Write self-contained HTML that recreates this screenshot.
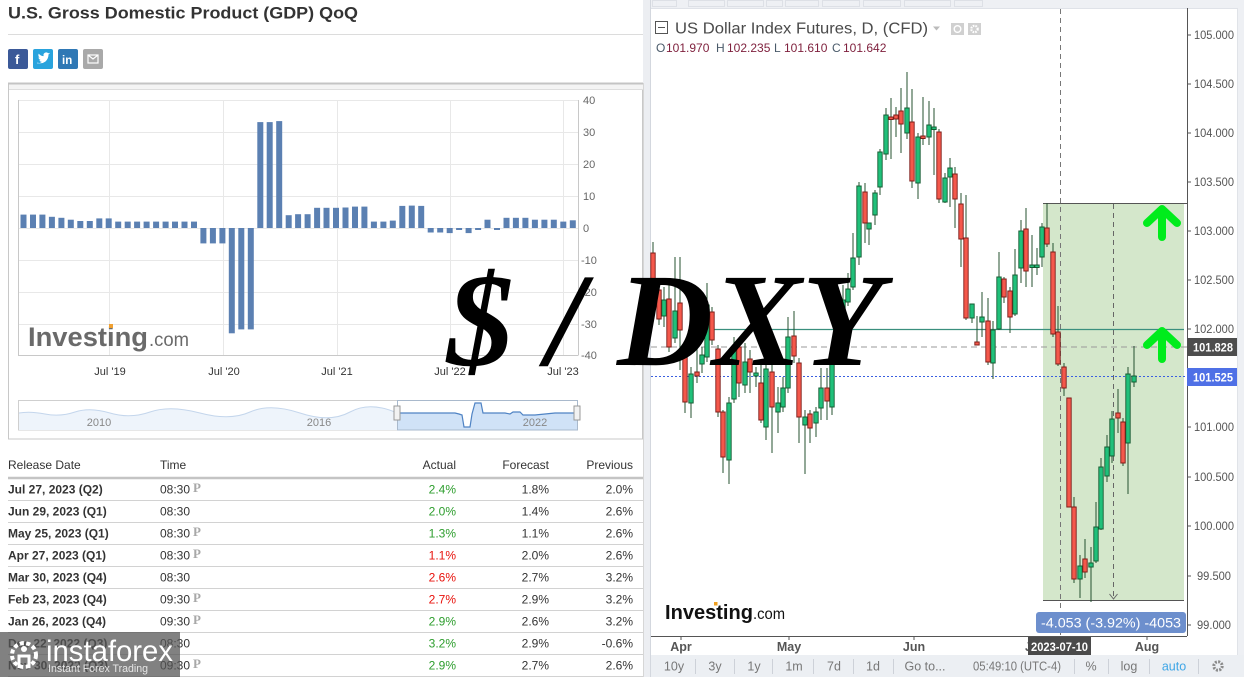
<!DOCTYPE html>
<html>
<head>
<meta charset="utf-8">
<style>
html,body{margin:0;padding:0;background:#fff;}
body{width:1244px;height:677px;overflow:hidden;}
svg{display:block;font-family:"Liberation Sans",Arial,sans-serif;}
</style>
</head>
<body>
<svg width="1244" height="677" viewBox="0 0 1244 677" xmlns="http://www.w3.org/2000/svg">
<!-- ============ LEFT PANEL ============ -->
<rect x="0" y="0" width="644" height="677" fill="#fff"/>
<text x="8" y="18.5" font-size="17" font-weight="bold" fill="#333" textLength="350" lengthAdjust="spacingAndGlyphs">U.S. Gross Domestic Product (GDP) QoQ</text>
<line x1="8" y1="34.5" x2="643" y2="34.5" stroke="#dcdcdc" stroke-width="1"/>
<!-- social icons -->
<rect x="8" y="49" width="20" height="20" rx="2" fill="#3b5998"/>
<text x="15" y="64" font-size="13" font-weight="bold" fill="#fff">f</text>
<rect x="33" y="49" width="20" height="20" rx="2" fill="#29a3dd"/>
<path d="M37.5 62.5 q4 2 8 -1 q3 -3 3 -7 l1.6 -1.6 -1.9 .4 q-1.5 -1.6 -3.5 -.4 q-1.8 1.2 -1 3.2 q-3 0 -5 -2.5 q-1 2.5 1 4 l-1.3 -.2 q.3 2 2.3 2.6 l-1.3 .2 q.7 1.6 2.5 1.7 q-1.8 1.4 -4.7 1.6z" fill="#fff"/>
<rect x="58" y="49" width="20" height="20" rx="2" fill="#2f78b5"/>
<text x="62" y="64" font-size="11.5" font-weight="bold" fill="#fff">in</text>
<rect x="83" y="49" width="20" height="20" rx="2" fill="#a9a9a9"/>
<rect x="88" y="55" width="10" height="8" fill="none" stroke="#fff" stroke-width="1.2"/>
<path d="M88 55 l5 4 l5 -4" fill="none" stroke="#fff" stroke-width="1.2"/>

<!-- chart box -->
<rect x="8.5" y="83.5" width="634" height="355.5" fill="#fff" stroke="#c8c8c8" stroke-width="1"/>
<rect x="9" y="84" width="634" height="5" fill="#f4f4f4"/>
<line x1="8" y1="83.5" x2="643" y2="83.5" stroke="#c4c4c4" stroke-width="2"/>
<line x1="9" y1="89.5" x2="643" y2="89.5" stroke="#dedede" stroke-width="1"/>
<!-- gridlines -->
<g stroke="#e8e8e8" stroke-width="1">
<line x1="18" y1="100.5" x2="578" y2="100.5"/>
<line x1="18" y1="132.5" x2="578" y2="132.5"/>
<line x1="18" y1="164.5" x2="578" y2="164.5"/>
<line x1="18" y1="196.5" x2="578" y2="196.5"/>
<line x1="18" y1="228.5" x2="578" y2="228.5"/>
<line x1="18" y1="260.5" x2="578" y2="260.5"/>
<line x1="18" y1="292.5" x2="578" y2="292.5"/>
<line x1="18" y1="324.5" x2="578" y2="324.5"/>
<line x1="109.5" y1="100" x2="109.5" y2="355"/>
<line x1="223.5" y1="100" x2="223.5" y2="355"/>
<line x1="337.5" y1="100" x2="337.5" y2="355"/>
<line x1="450.5" y1="100" x2="450.5" y2="355"/>
<line x1="563.5" y1="100" x2="563.5" y2="355"/>
</g>
<g stroke="#c8c8c8" stroke-width="1">
<line x1="18.5" y1="100" x2="18.5" y2="355.5"/>
<line x1="18" y1="355.5" x2="578" y2="355.5"/>
<line x1="578.5" y1="100" x2="578.5" y2="355.5"/>
</g>
<!-- bars -->
<g fill="#5b80b2">
<rect x="20.5" y="214.6" width="6" height="13.4"/>
<rect x="30" y="214.6" width="6" height="13.4"/>
<rect x="39.4" y="214.6" width="6" height="13.4"/>
<rect x="48.9" y="216.8" width="6" height="11.2"/>
<rect x="58.4" y="217.8" width="6" height="10.2"/>
<rect x="67.8" y="219.7" width="6" height="8.3"/>
<rect x="77.3" y="221" width="6" height="7"/>
<rect x="86.8" y="221" width="6" height="7"/>
<rect x="96.3" y="218.4" width="6" height="9.6"/>
<rect x="105.7" y="218.4" width="6" height="9.6"/>
<rect x="115.2" y="221.6" width="6" height="6.4"/>
<rect x="124.7" y="221.6" width="6" height="6.4"/>
<rect x="134.1" y="221.6" width="6" height="6.4"/>
<rect x="143.6" y="221.6" width="6" height="6.4"/>
<rect x="153.1" y="221.6" width="6" height="6.4"/>
<rect x="162.6" y="221.6" width="6" height="6.4"/>
<rect x="172" y="221.6" width="6" height="6.4"/>
<rect x="181.5" y="221.6" width="6" height="6.4"/>
<rect x="191" y="221.6" width="6" height="6.4"/>
<rect x="200.4" y="228" width="6" height="15.4"/>
<rect x="209.9" y="228" width="6" height="15.4"/>
<rect x="219.4" y="228" width="6" height="15.4"/>
<rect x="228.8" y="228" width="6" height="105.3"/>
<rect x="238.3" y="228" width="6" height="101.4"/>
<rect x="247.8" y="228" width="6" height="101.4"/>
<rect x="257.3" y="122.1" width="6" height="105.9"/>
<rect x="266.7" y="122.1" width="6" height="105.9"/>
<rect x="276.2" y="121.1" width="6" height="106.9"/>
<rect x="285.7" y="215.2" width="6" height="12.8"/>
<rect x="295.1" y="214.2" width="6" height="13.8"/>
<rect x="304.6" y="214.2" width="6" height="13.8"/>
<rect x="314.1" y="207.8" width="6" height="20.2"/>
<rect x="323.5" y="207.8" width="6" height="20.2"/>
<rect x="333" y="207.8" width="6" height="20.2"/>
<rect x="342.5" y="207.5" width="6" height="20.5"/>
<rect x="352" y="206.6" width="6" height="21.4"/>
<rect x="361.4" y="206.6" width="6" height="21.4"/>
<rect x="370.9" y="221.6" width="6" height="6.4"/>
<rect x="380.4" y="221.6" width="6" height="6.4"/>
<rect x="389.8" y="220.6" width="6" height="7.4"/>
<rect x="399.3" y="205.9" width="6" height="22.1"/>
<rect x="408.8" y="205.6" width="6" height="22.4"/>
<rect x="418.2" y="205.9" width="6" height="22.1"/>
<rect x="427.7" y="228" width="6" height="4.5"/>
<rect x="437.2" y="228" width="6" height="4.5"/>
<rect x="446.7" y="228" width="6" height="5.1"/>
<rect x="456.1" y="228" width="6" height="2"/>
<rect x="465.6" y="228" width="6" height="5.1"/>
<rect x="475.1" y="228" width="6" height="2"/>
<rect x="484.5" y="219.7" width="6" height="8.3"/>
<rect x="494" y="228" width="6" height="2"/>
<rect x="503.5" y="217.8" width="6" height="10.2"/>
<rect x="512.9" y="217.8" width="6" height="10.2"/>
<rect x="522.4" y="217.8" width="6" height="10.2"/>
<rect x="531.9" y="219.7" width="6" height="8.3"/>
<rect x="541.4" y="219.7" width="6" height="8.3"/>
<rect x="550.8" y="219.7" width="6" height="8.3"/>
<rect x="560.3" y="221.6" width="6" height="6.4"/>
<rect x="569.8" y="220.3" width="6" height="7.7"/>
</g>
<!-- y labels -->
<g font-size="11" fill="#666">
<text x="583" y="104">40</text>
<text x="583" y="136">30</text>
<text x="583" y="168">20</text>
<text x="583" y="200">10</text>
<text x="583" y="232">0</text>
<text x="581" y="264">-10</text>
<text x="581" y="296">-20</text>
<text x="581" y="328">-30</text>
<text x="581" y="359">-40</text>
</g>
<g font-size="11" fill="#333" text-anchor="middle">
<text x="110" y="375">Jul '19</text>
<text x="224" y="375">Jul '20</text>
<text x="337" y="375">Jul '21</text>
<text x="450" y="375">Jul '22</text>
<text x="563" y="375">Jul '23</text>
</g>
<!-- investing logo left -->
<text x="28" y="346" font-size="27" font-weight="bold" fill="#6a6a6a" textLength="120" lengthAdjust="spacingAndGlyphs">Investing</text>
<text x="149" y="346" font-size="19" fill="#6a6a6a" textLength="40" lengthAdjust="spacingAndGlyphs">.com</text>
<rect x="109" y="324" width="4" height="4" fill="#f0a030"/>
<!-- navigator -->
<rect x="18.5" y="400.5" width="559" height="29.5" fill="#fff" stroke="#cfcfcf"/>
<path d="M19 413 Q30 411 45 414 T75 412 T110 413 T150 412 T200 413 T250 412 T300 413 T350 412 T397 413 V430 H19Z" fill="#eef4fb"/>
<path d="M19 413 Q30 411 45 414 T75 412 T110 413 T150 412 T200 413 T250 412 T300 413 T350 412 T397 413" fill="none" stroke="#c4d6ec" stroke-width="1"/>
<path d="M397 413 L455 413 L459 414 L462 415 L464 427 L470 427 L472 414 L475 403 L481 403 L483 413 L505 413 L510 414 L513 412 L520 412 L523 415 L535 415 L545 414 L555 413 L577 413 V430 H397Z" fill="#d0e2f7" stroke="none"/>
<path d="M397 413 L455 413 L459 414 L462 415 L464 427 L470 427 L472 414 L475 403 L481 403 L483 413 L505 413 L510 414 L513 412 L520 412 L523 415 L535 415 L545 414 L555 413 L577 413" fill="none" stroke="#4f83c4" stroke-width="1.2"/>
<rect x="397.5" y="400.5" width="180" height="29.5" fill="none" stroke="#a9b9cc"/>
<rect x="394" y="406" width="6" height="14" fill="#f2f2f2" stroke="#999"/>
<rect x="574" y="406" width="6" height="14" fill="#f2f2f2" stroke="#999"/>
<g font-size="11" fill="#888" text-anchor="middle">
<text x="99" y="426">2010</text>
<text x="319" y="426">2016</text>
<text x="535" y="426">2022</text>
</g>
<!-- table -->
<g font-size="12" fill="#333">
<text x="8" y="469">Release Date</text>
<text x="160" y="469">Time</text>
<text x="456" y="469" text-anchor="end">Actual</text>
<text x="549" y="469" text-anchor="end">Forecast</text>
<text x="633" y="469" text-anchor="end">Previous</text>
</g>
<line x1="8" y1="478" x2="643" y2="478" stroke="#c4c4c4" stroke-width="2.5"/>
<g stroke="#d2d2d2" stroke-width="1">
<line x1="8" y1="500.5" x2="643" y2="500.5"/>
<line x1="8" y1="522.5" x2="643" y2="522.5"/>
<line x1="8" y1="544.5" x2="643" y2="544.5"/>
<line x1="8" y1="566.5" x2="643" y2="566.5"/>
<line x1="8" y1="588.5" x2="643" y2="588.5"/>
<line x1="8" y1="610.5" x2="643" y2="610.5"/>
<line x1="8" y1="632.5" x2="643" y2="632.5"/>
<line x1="8" y1="654.5" x2="643" y2="654.5"/>
<line x1="8" y1="676.5" x2="643" y2="676.5"/>
</g>
<g font-size="12" font-weight="bold" fill="#333">
<text x="8" y="493.5">Jul 27, 2023 (Q2)</text>
<text x="8" y="515.5">Jun 29, 2023 (Q1)</text>
<text x="8" y="537.5">May 25, 2023 (Q1)</text>
<text x="8" y="559.5">Apr 27, 2023 (Q1)</text>
<text x="8" y="581.5">Mar 30, 2023 (Q4)</text>
<text x="8" y="603.5">Feb 23, 2023 (Q4)</text>
<text x="8" y="625.5">Jan 26, 2023 (Q4)</text>
<text x="8" y="647.5">Dec 22, 2022 (Q3)</text>
<text x="8" y="669.5">Nov 30, 2022 (Q3)</text>
</g>
<g font-size="12" fill="#333">
<text x="160" y="493.5">08:30</text>
<text x="160" y="515.5">08:30</text>
<text x="160" y="537.5">08:30</text>
<text x="160" y="559.5">08:30</text>
<text x="160" y="581.5">08:30</text>
<text x="160" y="603.5">09:30</text>
<text x="160" y="625.5">09:30</text>
<text x="160" y="647.5">08:30</text>
<text x="160" y="669.5">09:30</text>
</g>
<g font-family="Liberation Serif, serif" font-size="13" font-weight="bold" fill="#a8a8a8">
<text x="193" y="492">P</text>
<text x="193" y="536">P</text>
<text x="193" y="558">P</text>
<text x="193" y="602">P</text>
<text x="193" y="624">P</text>
<text x="193" y="668">P</text>
</g>
<g font-size="12" text-anchor="end">
<text x="456" y="493.5" fill="#2e9e2e">2.4%</text>
<text x="456" y="515.5" fill="#2e9e2e">2.0%</text>
<text x="456" y="537.5" fill="#2e9e2e">1.3%</text>
<text x="456" y="559.5" fill="#e8120c">1.1%</text>
<text x="456" y="581.5" fill="#e8120c">2.6%</text>
<text x="456" y="603.5" fill="#e8120c">2.7%</text>
<text x="456" y="625.5" fill="#2e9e2e">2.9%</text>
<text x="456" y="647.5" fill="#2e9e2e">3.2%</text>
<text x="456" y="669.5" fill="#2e9e2e">2.9%</text>
</g>
<g font-size="12" text-anchor="end" fill="#333">
<text x="549" y="493.5">1.8%</text>
<text x="549" y="515.5">1.4%</text>
<text x="549" y="537.5">1.1%</text>
<text x="549" y="559.5">2.0%</text>
<text x="549" y="581.5">2.7%</text>
<text x="549" y="603.5">2.9%</text>
<text x="549" y="625.5">2.6%</text>
<text x="549" y="647.5">2.9%</text>
<text x="549" y="669.5">2.7%</text>
<text x="633" y="493.5">2.0%</text>
<text x="633" y="515.5">2.6%</text>
<text x="633" y="537.5">2.6%</text>
<text x="633" y="559.5">2.6%</text>
<text x="633" y="581.5">3.2%</text>
<text x="633" y="603.5">3.2%</text>
<text x="633" y="625.5">3.2%</text>
<text x="633" y="647.5">-0.6%</text>
<text x="633" y="669.5">2.6%</text>
</g>
<!-- instaforex watermark -->
<rect x="0" y="632" width="180" height="45" fill="rgba(85,85,85,0.74)"/>
<circle cx="24" cy="655" r="12" fill="none" stroke="#fff" stroke-width="4" stroke-dasharray="4 2.5"/>
<circle cx="24" cy="649" r="3" fill="#fff"/>
<path d="M19 668 V656 H29 V668" fill="none" stroke="#fff" stroke-width="3"/>
<text x="46" y="661" font-size="30" fill="#fff" textLength="127" lengthAdjust="spacingAndGlyphs">instaforex</text>
<text x="48" y="672" font-size="11" fill="#e6e6e6" textLength="100" lengthAdjust="spacingAndGlyphs">Instant Forex Trading</text>

<!-- ============ RIGHT PANEL ============ -->
<rect x="643" y="0" width="8" height="677" fill="#eceef2"/>
<line x1="643.5" y1="83" x2="643.5" y2="677" stroke="#d6d6d6"/>
<rect x="651" y="0" width="593" height="677" fill="#fff"/>
<line x1="650.5" y1="0" x2="650.5" y2="677" stroke="#d3d7de"/>
<rect x="651" y="0" width="593" height="8" fill="#eef0f4"/>
<line x1="651" y1="8.5" x2="1244" y2="8.5" stroke="#dfe2e8"/>
<g fill="none" stroke="#dde0e6">
<rect x="652.5" y="0.5" width="24" height="6"/>
<rect x="688.5" y="0.5" width="36" height="6"/>
<rect x="727.5" y="0.5" width="36" height="6"/>
<rect x="766.5" y="0.5" width="16" height="6"/>
<rect x="785.5" y="0.5" width="33" height="6"/>
<rect x="822.5" y="0.5" width="37" height="6"/>
<rect x="863.5" y="0.5" width="37" height="6"/>
<rect x="904.5" y="0.5" width="46" height="6"/>
<rect x="954.5" y="0.5" width="28" height="6"/>
</g>
<rect x="1238" y="8" width="6" height="647" fill="#eef0f4"/>
<line x1="1237.5" y1="8" x2="1237.5" y2="655" stroke="#e0e3e8"/>

<!-- green measurement box -->
<rect x="1043" y="203" width="141" height="397" fill="#d4e7cb"/>
<line x1="1043" y1="203.5" x2="1187" y2="203.5" stroke="#555" stroke-width="1"/>
<line x1="1043" y1="600.5" x2="1184" y2="600.5" stroke="#555" stroke-width="1"/>
<line x1="1113.5" y1="204" x2="1113.5" y2="599" stroke="#666" stroke-dasharray="5 4"/>
<path d="M1109.5 594 l4 5 l4 -5" fill="none" stroke="#666"/>
<line x1="1060.5" y1="9" x2="1060.5" y2="636" stroke="#777" stroke-dasharray="5 4"/>

<!-- horizontal lines -->
<line x1="714" y1="329.5" x2="1184" y2="329.5" stroke="#3a8f7e" stroke-width="1.3"/>
<line x1="651" y1="347" x2="1187" y2="347" stroke="#9a9a9a" stroke-dasharray="6 4"/>
<line x1="651" y1="376.5" x2="1187" y2="376.5" stroke="#3a5fe0" stroke-dasharray="2 2"/>

<!-- candles -->
<path fill="none" stroke="#24502f" stroke-width="1" d="M653 242V302M659 285V325M664 287V327M669 285V352M675 257V343M680 257V370M685 355V413M691 367V418M697 347V383M702 347V373M707 283V362M712 307V345M718 345V417M723 410V473M729 397V484M734 337V403M739 340V397M745 343V393M750 350V393M756 367V387M761 363V423M766 363V440M772 363V453M778 387V433M783 377V412M788 317V393M794 311V363M799 358V443M805 410V474M810 410V443M816 407V437M821 368V420M827 368V420M832 355V415M838 300V365M843 285V330M848 273V306M853 233V290M859 182V265M865 183V243M869 223V245M875 190V225M880 149V195M886 108V160M891 98V159M896 107V137M901 88V153M907 72V139M912 89V188M918 133V199M923 97V145M929 101V145M934 108V175M939 129V203M945 173V203M950 158V207M955 167V228M961 193V267M966 195V320M972 304V323M977 316V345M982 292V337M988 298V365M993 321V379M999 252V330M1004 277V303M1010 287V333M1015 249V316M1021 220V283M1026 208V287M1032 235V287M1037 248V275M1042 223V267M1047 203V247M1053 243V337M1058 306V366M1064 363V396M1069 398V507M1074 497V583M1080 555V598M1085 539V578M1091 547V602M1096 502V563M1101 458V530M1107 435V482M1112 411V463M1118 389V433M1123 418V466M1128 367V494M1134 346V387"/>
<path fill="#20c07a" stroke="#145c32" stroke-width="0.9" d="M661.8 300h4.4v16h-4.4zM672.8 311h4.4v27h-4.4zM688.8 374h4.4v29h-4.4zM699.8 355h4.4v9h-4.4zM704.8 305h4.4v52h-4.4zM726.8 403h4.4v57h-4.4zM731.8 349h4.4v50h-4.4zM742.8 362h4.4v23h-4.4zM753.8 373h4.4v3h-4.4zM763.8 369h4.4v58h-4.4zM775.8 403h4.4v9h-4.4zM780.8 388h4.4v19h-4.4zM785.8 337h4.4v51h-4.4zM802.8 417h4.4v8h-4.4zM813.8 412h4.4v11h-4.4zM818.8 388h4.4v20h-4.4zM829.8 360h4.4v47h-4.4zM835.8 322h4.4v38h-4.4zM840.8 300h4.4v25h-4.4zM845.8 289h4.4v13h-4.4zM850.8 258h4.4v29h-4.4zM856.8 186h4.4v71h-4.4zM866.8 223h4.4v6h-4.4zM872.8 193h4.4v22h-4.4zM877.8 152h4.4v35h-4.4zM883.8 115h4.4v39h-4.4zM904.8 108h4.4v25h-4.4zM915.8 137h4.4v46h-4.4zM926.8 125h4.4v12h-4.4zM931.8 127h4.4v2.5h-4.4zM942.8 178h4.4v24h-4.4zM947.8 168h4.4v9h-4.4zM969.8 304h4.4v14h-4.4zM979.8 317h4.4v5h-4.4zM990.8 330h4.4v33h-4.4zM996.8 277h4.4v52h-4.4zM1012.8 275h4.4v39h-4.4zM1018.8 231h4.4v37h-4.4zM1029.8 265h4.4v2.5h-4.4zM1034.8 265h4.4v2.5h-4.4zM1039.8 227h4.4v30h-4.4zM1077.8 566h4.4v13h-4.4zM1088.8 563h4.4v4h-4.4zM1093.8 527h4.4v34h-4.4zM1098.8 467h4.4v62h-4.4zM1104.8 447h4.4v29h-4.4zM1109.8 419h4.4v37h-4.4zM1125.8 374h4.4v69h-4.4zM1131.8 376h4.4v6h-4.4z"/>
<path fill="#f4584b" stroke="#7e1b17" stroke-width="0.9" d="M650.8 253h4.4v47h-4.4zM656.8 290h4.4v29h-4.4zM666.8 299h4.4v48h-4.4zM677.8 303h4.4v27h-4.4zM682.8 355h4.4v47h-4.4zM694.8 372h4.4v4h-4.4zM709.8 312h4.4v28h-4.4zM715.8 349h4.4v63h-4.4zM720.8 412h4.4v45h-4.4zM736.8 347h4.4v36h-4.4zM747.8 359h4.4v13h-4.4zM758.8 383h4.4v37h-4.4zM769.8 372h4.4v35h-4.4zM791.8 336h4.4v20h-4.4zM796.8 363h4.4v54h-4.4zM807.8 414h4.4v14h-4.4zM824.8 388h4.4v13h-4.4zM862.8 192h4.4v31h-4.4zM888.8 117h4.4v2.5h-4.4zM893.8 115h4.4v4h-4.4zM898.8 111h4.4v13h-4.4zM909.8 122h4.4v59h-4.4zM920.8 136h4.4v2.5h-4.4zM936.8 132h4.4v67h-4.4zM952.8 174h4.4v25h-4.4zM958.8 204h4.4v35h-4.4zM963.8 238h4.4v80h-4.4zM974.8 342h4.4v3h-4.4zM985.8 321h4.4v41h-4.4zM1001.8 279h4.4v18h-4.4zM1007.8 291h4.4v26h-4.4zM1023.8 229h4.4v42h-4.4zM1044.8 228h4.4v16h-4.4zM1050.8 252h4.4v82h-4.4zM1055.8 332h4.4v32h-4.4zM1061.8 367h4.4v21h-4.4zM1066.8 398h4.4v109h-4.4zM1071.8 507h4.4v72h-4.4zM1082.8 559h4.4v13h-4.4zM1115.8 413h4.4v5h-4.4zM1120.8 422h4.4v41h-4.4z"/>

<!-- green arrows -->
<g fill="none" stroke="#00ec1c" stroke-width="8" stroke-linecap="round" stroke-linejoin="round">
<path d="M1147 223 L1162 209 L1177 223 M1162 211 V237"/>
<path d="M1147 345 L1162 331 L1177 345 M1162 333 V359"/>
</g>

<!-- right axis -->
<line x1="1187.5" y1="8" x2="1187.5" y2="636" stroke="#555"/>
<g stroke="#555">
<line x1="1187" y1="35" x2="1191" y2="35"/>
<line x1="1187" y1="84" x2="1191" y2="84"/>
<line x1="1187" y1="133" x2="1191" y2="133"/>
<line x1="1187" y1="182" x2="1191" y2="182"/>
<line x1="1187" y1="231" x2="1191" y2="231"/>
<line x1="1187" y1="280" x2="1191" y2="280"/>
<line x1="1187" y1="329" x2="1191" y2="329"/>
<line x1="1187" y1="427" x2="1191" y2="427"/>
<line x1="1187" y1="477" x2="1191" y2="477"/>
<line x1="1187" y1="526" x2="1191" y2="526"/>
<line x1="1187" y1="576" x2="1191" y2="576"/>
<line x1="1187" y1="625" x2="1191" y2="625"/>
</g>
<g font-size="11.5" fill="#555">
<text x="1194" y="39" textLength="40" lengthAdjust="spacingAndGlyphs">105.000</text>
<text x="1194" y="88" textLength="40" lengthAdjust="spacingAndGlyphs">104.500</text>
<text x="1194" y="137" textLength="40" lengthAdjust="spacingAndGlyphs">104.000</text>
<text x="1194" y="186" textLength="40" lengthAdjust="spacingAndGlyphs">103.500</text>
<text x="1194" y="235" textLength="40" lengthAdjust="spacingAndGlyphs">103.000</text>
<text x="1194" y="284" textLength="40" lengthAdjust="spacingAndGlyphs">102.500</text>
<text x="1194" y="333" textLength="40" lengthAdjust="spacingAndGlyphs">102.000</text>
<text x="1194" y="431" textLength="40" lengthAdjust="spacingAndGlyphs">101.000</text>
<text x="1194" y="481" textLength="40" lengthAdjust="spacingAndGlyphs">100.500</text>
<text x="1194" y="530" textLength="40" lengthAdjust="spacingAndGlyphs">100.000</text>
<text x="1197" y="580" textLength="34" lengthAdjust="spacingAndGlyphs">99.500</text>
<text x="1197" y="629" textLength="34" lengthAdjust="spacingAndGlyphs">99.000</text>
</g>
<rect x="1187" y="338" width="50" height="18" fill="#4d4d4d"/>
<text x="1193" y="351.5" font-size="12" font-weight="bold" fill="#fff" textLength="40" lengthAdjust="spacingAndGlyphs">101.828</text>
<rect x="1187" y="368" width="50" height="18" fill="#4f70e6"/>
<text x="1193" y="381.5" font-size="12" font-weight="bold" fill="#fff" textLength="40" lengthAdjust="spacingAndGlyphs">101.525</text>

<!-- title -->
<rect x="655.5" y="21.5" width="12" height="12" fill="none" stroke="#555" stroke-width="1"/>
<line x1="658" y1="27.5" x2="665" y2="27.5" stroke="#555"/>
<text x="675" y="33.5" font-size="15.5" fill="#4a4a4a" textLength="253" lengthAdjust="spacingAndGlyphs">US Dollar Index Futures, D, (CFD)</text>
<path d="M933 26.5 h7 l-3.5 4z" fill="#bbb"/>
<rect x="951" y="23" width="13" height="12" fill="#d0d0d0"/>
<circle cx="957.5" cy="29" r="3.3" fill="none" stroke="#fff" stroke-width="1.4"/>
<rect x="968" y="23" width="13" height="12" fill="#d0d0d0"/>
<circle cx="974.5" cy="29" r="3.2" fill="none" stroke="#fff" stroke-width="2.2" stroke-dasharray="1.6 1"/>
<g font-size="12">
<text x="656" y="52" fill="#4a5a6a">O</text>
<text x="666" y="52" fill="#7e1f3c">101.970</text>
<text x="716" y="52" fill="#4a5a6a">H</text>
<text x="727" y="52" fill="#7e1f3c">102.235</text>
<text x="774" y="52" fill="#4a5a6a">L</text>
<text x="784" y="52" fill="#7e1f3c">101.610</text>
<text x="832" y="52" fill="#4a5a6a">C</text>
<text x="843" y="52" fill="#7e1f3c">101.642</text>
</g>

<!-- investing logo right -->
<text x="665" y="619" font-size="20" font-weight="bold" fill="#111" textLength="88" lengthAdjust="spacingAndGlyphs">Investing</text>
<text x="753" y="619" font-size="15.5" fill="#111" textLength="32" lengthAdjust="spacingAndGlyphs">.com</text>
<rect x="714" y="602" width="3.5" height="3.5" fill="#f0a020"/>

<!-- measure label -->
<rect x="1036" y="612" width="150" height="21" rx="3" fill="#6d8fcd"/>
<text x="1111" y="627.5" font-size="14" fill="#fff" text-anchor="middle" textLength="140" lengthAdjust="spacingAndGlyphs">-4.053 (-3.92%) -4053</text>

<!-- bottom axis -->
<line x1="651" y1="636.5" x2="1187" y2="636.5" stroke="#555"/>
<g stroke="#555">
<line x1="681" y1="636" x2="681" y2="640"/>
<line x1="789" y1="636" x2="789" y2="640"/>
<line x1="914" y1="636" x2="914" y2="640"/>
<line x1="1147" y1="636" x2="1147" y2="640"/>
</g>
<g font-size="12.5" font-weight="bold" fill="#555" text-anchor="middle">
<text x="681" y="651">Apr</text>
<text x="789" y="651">May</text>
<text x="914" y="651">Jun</text>
<text x="1034" y="651">Jul</text>
<text x="1147" y="651">Aug</text>
</g>
<rect x="1028" y="637" width="63" height="18" fill="#4a4a4a"/>
<text x="1059.5" y="651" font-size="12" font-weight="bold" fill="#fff" text-anchor="middle" textLength="57" lengthAdjust="spacingAndGlyphs">2023-07-10</text>

<!-- bottom toolbar -->
<rect x="651" y="655" width="593" height="22" fill="#eceff3"/>
<g stroke="#cdd1d8">
<line x1="695.5" y1="659" x2="695.5" y2="674"/>
<line x1="734.5" y1="659" x2="734.5" y2="674"/>
<line x1="772.5" y1="659" x2="772.5" y2="674"/>
<line x1="813.5" y1="659" x2="813.5" y2="674"/>
<line x1="853.5" y1="659" x2="853.5" y2="674"/>
<line x1="893.5" y1="659" x2="893.5" y2="674"/>
<line x1="1074.5" y1="659" x2="1074.5" y2="674"/>
<line x1="1108.5" y1="659" x2="1108.5" y2="674"/>
<line x1="1149.5" y1="659" x2="1149.5" y2="674"/>
<line x1="1198.5" y1="659" x2="1198.5" y2="674"/>
</g>
<g font-size="12.5" fill="#777" text-anchor="middle">
<text x="674" y="670.5">10y</text>
<text x="715" y="670.5">3y</text>
<text x="754" y="670.5">1y</text>
<text x="794" y="670.5">1m</text>
<text x="834" y="670.5">7d</text>
<text x="873" y="670.5">1d</text>
<text x="925" y="670.5">Go to...</text>
<text x="1017" y="670.5" textLength="88" lengthAdjust="spacingAndGlyphs">05:49:10 (UTC-4)</text>
<text x="1091" y="670.5">%</text>
<text x="1129" y="670.5">log</text>
<text x="1174" y="670.5" fill="#3fa6e6">auto</text>
</g>
<circle cx="1218" cy="666" r="4.2" fill="none" stroke="#8a8a8a" stroke-width="3" stroke-dasharray="2 1.3"/>
<circle cx="1218" cy="666" r="1.6" fill="#eceff3"/>

<!-- big overlay text -->
<text x="447" y="365" font-family="Liberation Serif, serif" font-size="133" font-weight="bold" font-style="italic" fill="#000">$ / DXY</text>
</svg>
</body>
</html>
